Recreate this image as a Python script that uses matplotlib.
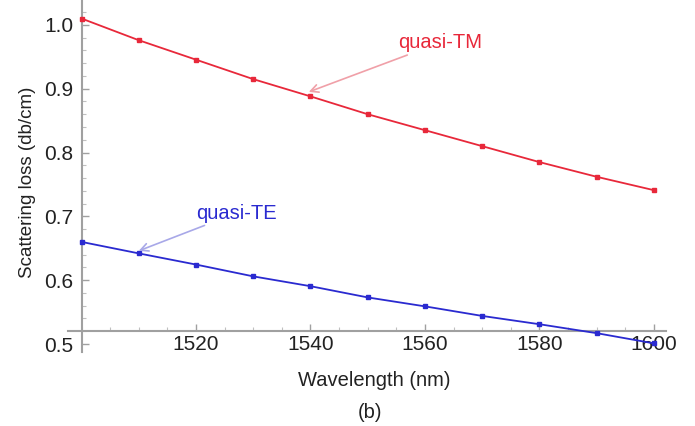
import matplotlib
matplotlib.use("Agg")
import matplotlib.pyplot as plt
from matplotlib.ticker import MultipleLocator, FixedLocator

plt.rcParams['font.family'] = ['Liberation Sans', 'DejaVu Sans']

wavelength = [1500, 1510, 1520, 1530, 1540, 1550, 1560, 1570, 1580, 1590, 1600]
loss_tm = [1.010, 0.976, 0.9455, 0.915, 0.888, 0.860, 0.835, 0.810, 0.785, 0.762, 0.741]
loss_te = [0.660, 0.642, 0.6245, 0.606, 0.5906, 0.573, 0.559, 0.544, 0.531, 0.517, 0.501]
x_ticks = [1520, 1540, 1560, 1580, 1600]
y_ticks = [0.5, 0.6, 0.7, 0.8, 0.9, 1.0]
y_tick_labels = ["0.5", "0.6", "0.7", "0.8", "0.9", "1.0"]

fig = plt.figure(figsize=(6.95, 4.26), dpi=100)
ax = fig.add_axes([68/695, (426-352)/426, 598/695, 352/426])

red = '#e8283a'
blue = '#2a2ad0'
ax.plot(wavelength, loss_tm, color=red, lw=1.3, marker='s', ms=3.0, zorder=3)
ax.plot(wavelength, loss_te, color=blue, lw=1.3, marker='s', ms=2.5, zorder=3)

ax.set_xlim(1497.64, 1602.1)
ax.set_ylim(0.4875, 1.039)

axis_col = '#a0a0a0'
for s in ['top', 'right']:
    ax.spines[s].set_visible(False)
ax.spines['left'].set_position(('data', 1500))
ax.spines['bottom'].set_position(('data', 0.52))
for s in ['left', 'bottom']:
    ax.spines[s].set_color(axis_col)
    ax.spines[s].set_linewidth(1.5)

ax.xaxis.set_major_locator(FixedLocator(x_ticks))
ax.xaxis.set_minor_locator(MultipleLocator(5))
ax.yaxis.set_major_locator(FixedLocator(y_ticks))
ax.set_yticklabels(y_tick_labels)
ax.yaxis.set_minor_locator(MultipleLocator(0.02))
ax.tick_params(axis='both', which='major', direction='in', length=5, width=1,
               color=axis_col, labelsize=15, labelcolor='#222222')
ax.tick_params(axis='both', which='minor', direction='in', length=3, width=0.8,
               color='#c0c0c0')
ax.tick_params(axis='x', which='major', pad=3)
ax.tick_params(axis='y', which='major', pad=6)

fig.text(28/695, 1 - 182/426, 'Scattering loss (db/cm)', rotation=90,
         ha='center', va='center', fontsize=13.5, color='#222222')
fig.text(374/695, 1 - 381/426, 'Wavelength (nm)', ha='center', va='center',
         fontsize=14.5, color='#222222')
fig.text(370/695, 1 - 413/426, '(b)', ha='center', va='center',
         fontsize=14.5, color='#222222')

ax.annotate('quasi-TM', xy=(1539.7, 0.895), xytext=(1555.3, 0.972),
            ha='left', va='center', fontsize=14.5, color=red,
            arrowprops=dict(arrowstyle='->', color='#f0a0a8', lw=1.2,
                            shrinkA=0, shrinkB=0, mutation_scale=14))
ax.annotate('quasi-TE', xy=(1510.0, 0.646), xytext=(1520.0, 0.705),
            ha='left', va='center', fontsize=14.5, color=blue,
            arrowprops=dict(arrowstyle='->', color='#a8a8e8', lw=1.2,
                            shrinkA=0, shrinkB=0, mutation_scale=14))

fig.savefig('out.png', dpi=100)
